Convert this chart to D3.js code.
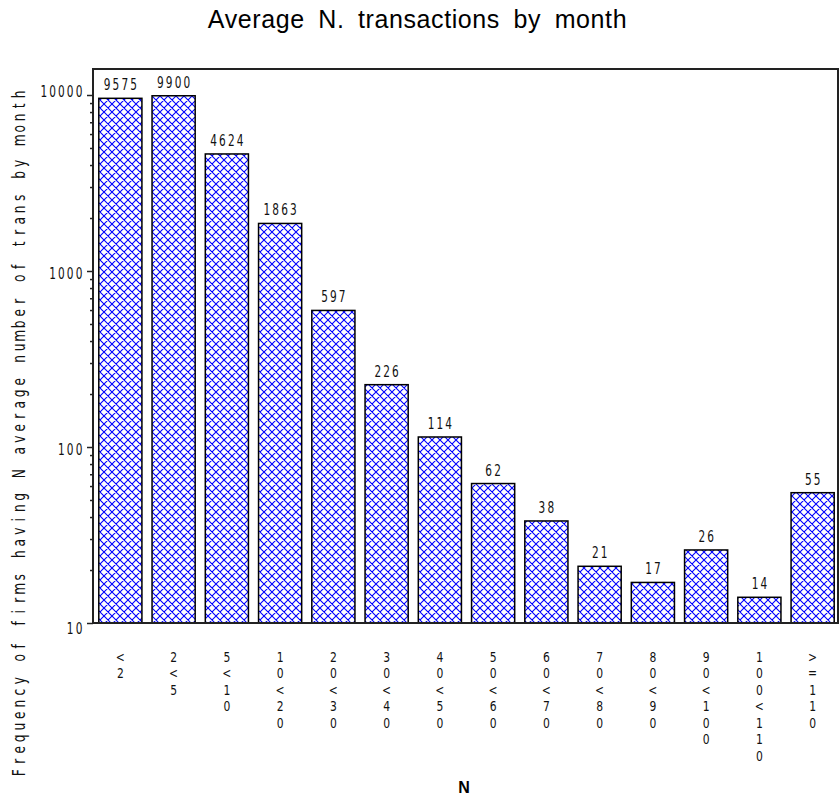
<!DOCTYPE html>
<html>
<head>
<meta charset="utf-8">
<script src="https://cdn.jsdelivr.net/npm/d3@7"></script>
<style>
  body { margin: 0; background: #fff; }
</style>
</head>
<body>
<svg id="chart" width="839" height="798"></svg>
<script>
// ---- data ----
const categories = ["<2", "2<5", "5<10", "10<20", "20<30", "30<40", "40<50",
                    "50<60", "60<70", "70<80", "80<90", "90<100", "100<110", ">=110"];
const frequencies = [9575, 9900, 4624, 1863, 597, 226, 114, 62, 38, 21, 17, 26, 14, 55];
const majorTicks = [10, 100, 1000, 10000];
const minorSteps = [2, 3, 4, 5, 6, 7, 8, 9];
const titleText = "Average N. transactions by month";
const yLabelText = "Frequency of firms having N average number of trans by month";
const xLabelText = "N";

// ---- layout ----
const frame = { left: 93, right: 838, top: 69, bottom: 623 };
const svg = d3.select("#chart");

const x = d3.scaleBand()
  .domain(categories)
  .range([94, 839])
  .paddingInner(0.19)
  .paddingOuter(0.09);

const y = d3.scaleLog()
  .domain([10, 10000])
  .range([frame.bottom, 95]);

// narrow, evenly spaced characters (device-font look)
const NARROW = { family: "DejaVu Sans", size: 16, sx: 0.66 };
function spacedText(textSel, str, pitch, align, opts) {
  const o = Object.assign({}, NARROW, opts || {});
  const n = str.length;
  textSel
    .attr("font-family", o.family)
    .attr("font-size", o.size)
    .attr("text-anchor", "middle")
    .attr("fill", "#111");
  [...str].forEach((ch, i) => {
    if (ch === " ") return;
    const off = align === "end" ? -(n - 1 - i) * pitch : (i - (n - 1) / 2) * pitch;
    textSel.append("tspan").attr("x", off / o.sx).attr("y", 0).text(ch);
  });
}

// ---- crosshatch fill ----
const P = 8;
const pat = svg.append("defs").append("pattern")
  .attr("id", "xhatch")
  .attr("patternUnits", "userSpaceOnUse")
  .attr("width", P).attr("height", P);
pat.append("rect").attr("width", P).attr("height", P).attr("fill", "#fff");
pat.append("path")
  .attr("d", `M0,0L${P},${P}M${P},0L0,${P}` +
             `M-1,${P - 1}L1,${P + 1}M${P - 1},-1L${P + 1},1` +
             `M-1,1L1,-1M${P - 1},${P + 1}L${P + 1},${P - 1}`)
  .attr("stroke", "#0000ff")
  .attr("stroke-width", 1.1)
  .attr("fill", "none");

// ---- title ----
svg.append("text")
  .attr("x", 417.5)
  .attr("y", 28)
  .attr("text-anchor", "middle")
  .attr("font-family", "Liberation Sans, Arial, sans-serif")
  .attr("font-size", 25)
  .attr("word-spacing", 6)
  .attr("letter-spacing", 0.6)
  .attr("fill", "#000")
  .text(titleText);

// ---- bars ----
svg.append("g").selectAll("rect")
  .data(categories.map((c, i) => ({ c, v: frequencies[i] })))
  .join("rect")
  .attr("x", d => x(d.c))
  .attr("y", d => y(d.v))
  .attr("width", x.bandwidth())
  .attr("height", d => y(10) - y(d.v))
  .attr("fill", "url(#xhatch)")
  .attr("stroke", "#000")
  .attr("stroke-width", 1.5);

// ---- value labels ----
svg.append("g").selectAll("text")
  .data(categories.map((c, i) => ({ c, v: frequencies[i] })))
  .join("text")
  .attr("transform", d => `translate(${x(d.c) + x.bandwidth() / 2},${y(d.v) - 8}) scale(${NARROW.sx},1)`)
  .each(function (d) { spacedText(d3.select(this), String(d.v), 8.8, "middle"); });

// ---- frame ----
svg.append("rect")
  .attr("x", frame.left).attr("y", frame.top)
  .attr("width", frame.right - frame.left)
  .attr("height", frame.bottom - frame.top)
  .attr("fill", "none")
  .attr("stroke", "#222")
  .attr("stroke-width", 2);

// ---- y axis ----
const minorTicks = [];
majorTicks.slice(0, -1).forEach(m => minorSteps.forEach(s => minorTicks.push(m * s)));

const yMinor = svg.append("g")
  .attr("transform", `translate(${frame.left},0)`)
  .call(d3.axisLeft(y).tickValues(minorTicks).tickSize(3).tickFormat(""));
yMinor.select(".domain").remove();
yMinor.selectAll("line").attr("stroke", "#222").attr("stroke-width", 1.5);

const yMajor = svg.append("g")
  .attr("transform", `translate(${frame.left},0)`)
  .call(d3.axisLeft(y).tickValues(majorTicks).tickSize(6).tickFormat(""));
yMajor.select(".domain").remove();
yMajor.selectAll("line").attr("stroke", "#222").attr("stroke-width", 1.5);
yMajor.selectAll(".tick text").remove();
yMajor.selectAll(".tick").each(function (v) {
  // end labels are nudged to stay inside the axis span
  const dy = v === 10 ? 10 : v === 10000 ? 1 : 7;
  const t = d3.select(this).append("text")
    .attr("transform", `translate(-14,${dy}) scale(${NARROW.sx},1)`);
  spacedText(t, String(v), 8.8, "end");
});

// ---- x axis (category labels stacked one character per line) ----
const STACK = { size: 14.2, sx: 0.76, pitch: 16.6 };
const xAxis = svg.append("g")
  .attr("transform", `translate(0,${frame.bottom})`)
  .call(d3.axisBottom(x).tickSize(0).tickFormat(""));
xAxis.select(".domain").remove();
xAxis.selectAll(".tick text").remove();
xAxis.selectAll(".tick").each(function (c) {
  const t = d3.select(this).append("text")
    .attr("transform", `translate(0,38.5) scale(${STACK.sx},1)`)
    .attr("font-family", NARROW.family)
    .attr("font-size", STACK.size)
    .attr("text-anchor", "middle")
    .attr("fill", "#111");
  [...c].forEach((ch, i) => {
    t.append("tspan").attr("x", 0).attr("y", i * STACK.pitch).text(ch);
  });
});

// ---- axis titles ----
const yl = svg.append("g").attr("transform", "translate(25,433.5) rotate(-90)");
spacedText(yl.append("text").attr("transform", "scale(0.72,1)"),
           yLabelText, 11.5, "middle", { size: 17, sx: 0.72 });

svg.append("text")
  .attr("x", 464)
  .attr("y", 793)
  .attr("text-anchor", "middle")
  .attr("font-family", "Liberation Sans, Arial, sans-serif")
  .attr("font-weight", "bold")
  .attr("font-size", 16)
  .attr("fill", "#000")
  .text(xLabelText);
</script>
</body>
</html>
